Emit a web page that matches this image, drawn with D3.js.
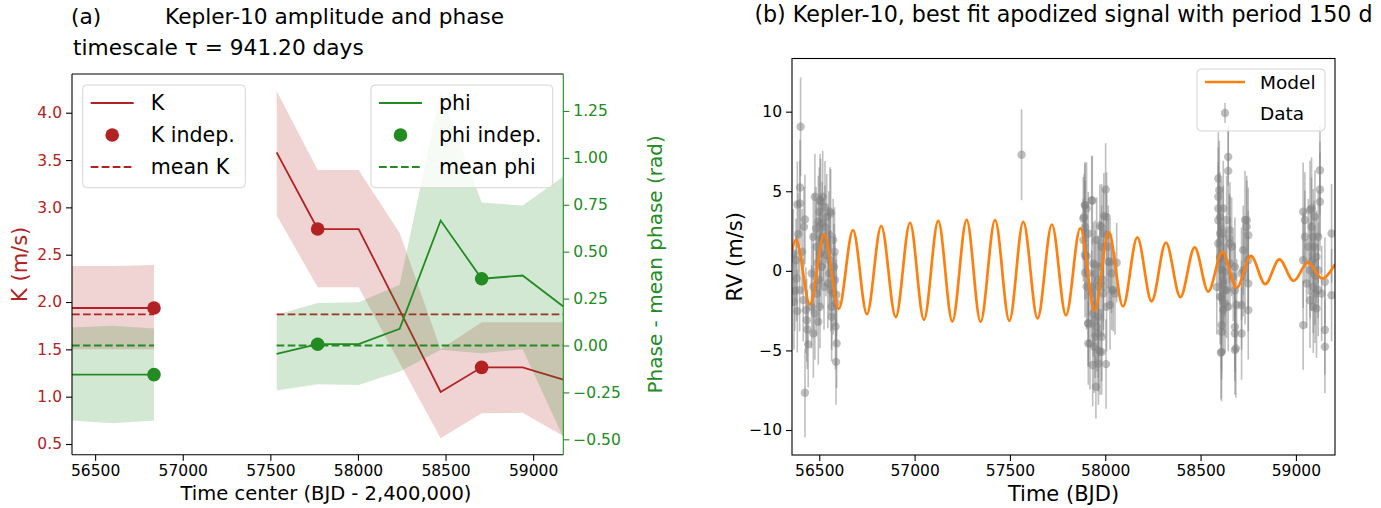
<!DOCTYPE html>
<html><head><meta charset="utf-8">
<script src="https://cdn.jsdelivr.net/npm/d3@7"></script>
<style>
body{margin:0;background:#fff}
svg{display:block}
text{font-family:"DejaVu Sans",sans-serif}
</style>
</head><body>
<svg id="c" width="1381" height="508"></svg>
<script>
// ---------------- data: panel (a) ----------------
const seg1Time = [56368, 56602, 56836];
const seg1K = [1.937, 1.937, 1.937];
const seg1KUp = [2.38, 2.38, 2.39];
const seg1KLo = [1.50, 1.50, 1.50];
const seg1Phi = [-0.155, -0.155, -0.155];
const seg1PhiUp = [0.096, 0.105, 0.091];
const seg1PhiLo = [-0.40, -0.414, -0.40];

const seg2Time = [57536, 57770, 58004, 58238, 58472, 58706, 58940, 59172];
const seg2K = [3.581, 2.771, 2.771, 1.915, 1.05, 1.31, 1.31, 1.18];
const seg2KUp = [4.229, 3.394, 3.394, 2.73, 1.50, 1.786, 1.786, 1.786];
const seg2KLo = [2.918, 2.155, 2.155, 1.356, 0.56, 0.824, 0.83, 0.585];
const seg2Phi = [-0.044, 0.007, 0.007, 0.089, 0.666, 0.356, 0.373, 0.208];
const seg2PhiUp = [0.164, 0.226, 0.231, 0.324, 1.354, 0.762, 0.746, 0.901];
const seg2PhiLo = [-0.24, -0.206, -0.211, -0.139, -0.023, -0.041, -0.02, -0.49];

const indepTime = [56836, 57770, 58706];
const indepK = [1.937, 2.771, 1.31];
const indepPhi = [-0.155, 0.007, 0.356];
const meanK = 1.87;
const meanPhi = 0.0;

const xTicksA = [56500, 57000, 57500, 58000, 58500, 59000];
const kTicks = [0.5, 1.0, 1.5, 2.0, 2.5, 3.0, 3.5, 4.0];
const phiTicks = [-0.50, -0.25, 0.00, 0.25, 0.50, 0.75, 1.00, 1.25];

// ---------------- data: panel (b) ----------------
const modelTime = [56357, 56378, 56451, 56526, 56602, 56677, 56750, 56825, 56901, 56976,
  57049, 57124, 57198, 57273, 57346, 57422, 57497, 57570, 57645, 57720,
  57794, 57869, 57944, 58018, 58093, 58168, 58243, 58318, 58394, 58469,
  58540, 58614, 58689, 58764, 58839, 58913, 58988, 59063, 59138, 59205];
const modelValue = [1.30, 1.97, -2.11, 2.31, -2.39, 2.56, -2.72, 2.83, -2.91, 3.02,
  -3.08, 3.14, -3.18, 3.20, -3.20, 3.18, -3.14, 3.08, -2.99, 2.91,
  -2.80, 2.68, -2.51, 2.43, -2.24, 2.10, -1.92, 1.78, -1.65, 1.47,
  -1.30, 1.19, -1.07, 0.94, -0.84, 0.72, -0.63, 0.53, -0.48, 0.42];

const rvTime = [
  56402,56399,56385,56425,56420,56378,56381,56372,56367,56385,56425,56416,56430,56434,56437,56442,
  56469,56460,56469,56460,56486,56469,56483,56495,56500,56507,56518,56521,56504,56513,56500,56486,
  56504,56477,56539,56530,56547,56556,56552,56556,56573,56577,56582,56573,56565,56565,56591,56588,
  56490,56510,56525,56535,56545,56495,56515,56530,56550,56560,56580,56585,56590,56410,56390,56364,
  56397,56399,56560,56477,56504,56588,
  57561,
  57894,57902,57932,58002,57993,57972,57990,57889,57894,57885,57902,57894,57937,57946,57964,57990,
  58025,58060,58042,58025,57911,57920,57934,58004,57972,57951,57946,57955,57937,57964,58007,57990,
  57981,57972,57955,57911,58007,57929,57941,57964,57981,57902,58016,58033,58051,57893,57929,57885,
  57981,58007,57893,58034,57911,57911,57946,57911,57929,57963,57990,58016,57946,57963,57963,57981,
  58593,58645,58645,58598,58593,58619,58602,58610,58654,58650,58733,58742,58750,58724,58750,58724,
  58733,58715,58750,58610,58610,58680,58680,58715,58610,58680,58593,58602,58610,58619,58610,58628,
  58619,58637,58654,58663,58671,58680,58689,58619,58637,58593,58602,58585,58628,58593,58602,58654,
  58742,58680,58715,58750,58619,58628,58602,58645,58607,58685,
  59038,59047,59038,59038,59074,59082,59100,59126,59126,59126,59091,59095,59082,59074,59091,59152,
  59135,59187,59187,59074,59091,59108,59152,59152,59065,59082,59108,59117,59056,59100,59117,59047,
  59100,59117];
const rvValue = [
  9.05,5.24,4.17,3.23,2.76,0.67,-0.48,-1.26,-1.95,-2.53,-7.66,-1.84,-2.47,-3.10,-3.68,-4.62,
  -3.93,-2.26,-1.00,-0.16,1.51,2.14,2.66,3.08,3.71,4.34,4.65,1.93,1.09,0.25,-0.58,-1.42,
  -2.26,-2.68,3.39,2.76,1.51,0.67,-0.16,3.71,1.93,0.25,-0.58,-1.42,-2.26,-2.89,-4.56,-5.72,
  0.50,2.00,-1.00,1.00,-0.80,-3.20,3.00,4.00,2.30,-1.20,1.20,-3.50,-1.50,1.20,2.30,1.09,
  -1.21,4.23,3.60,4.65,4.44,-2.00,
  7.29,
  4.13,3.92,4.40,5.11,3.44,2.83,2.35,3.39,2.76,1.93,0.92,-0.12,0.46,-0.16,-0.99,-0.58,
  0.57,0.51,-1.21,-2.15,-3.31,-4.56,-5.92,-5.86,-5.09,-7.28,-4.14,-3.52,-2.68,-2.89,-2.26,-1.42,
  1.51,0.25,1.93,2.35,3.39,-1.42,-4.77,-5.82,-4.14,-0.99,1.51,-0.16,-1.42,4.13,4.44,3.29,
  2.76,2.24,0.99,-1.21,-3.31,-4.56,0.36,-0.16,-1.00,-0.58,-1.00,0.57,-3.10,-3.93,-4.98,-5.09,
  5.80,7.16,6.28,5.07,3.92,3.92,3.39,2.77,2.56,2.04,3.19,2.77,2.24,1.30,0.67,0.04,
  -0.37,-2.15,-2.47,-3.41,-3.83,-3.52,-3.94,-3.94,-5.09,-4.98,1.72,0.88,0.04,-0.80,-1.64,-2.05,
  -2.47,-1.22,0.46,1.51,-0.37,-1.22,-2.15,2.35,3.19,4.65,0.77,-1.01,-0.06,3.18,2.35,1.72,
  3.18,0.25,-0.17,-0.79,-0.58,-1.21,-1.63,-2.26,-5.15,-4.87,
  3.71,2.14,0.67,-3.41,3.82,3.92,3.40,6.32,5.11,4.34,2.14,1.51,0.57,0.04,-1.01,-0.69,
  -1.43,2.35,-1.53,-1.85,-2.26,-2.36,-3.72,-4.77,1.51,2.77,0.88,0.04,-0.80,-1.43,2.14,3.19,
  -0.30,-1.20];
const rvError = [
  3.1,3.0,2.7,2.8,2.5,2.6,2.7,2.5,3.0,2.6,2.8,2.6,2.7,2.6,2.5,2.7,
  2.8,2.6,2.7,2.5,2.8,2.7,2.6,2.9,2.8,2.7,2.9,2.6,2.7,2.6,2.8,2.7,
  2.6,2.9,2.7,2.6,2.5,2.7,2.6,2.8,2.6,2.7,2.9,2.6,2.7,2.8,2.8,2.7,
  2.6,2.8,2.7,2.6,2.8,2.7,2.6,2.9,2.7,2.6,2.8,2.7,2.6,2.7,2.6,2.8,
  2.6,2.7,2.8,2.7,2.9,2.7,
  2.86,
  2.6,2.9,2.8,2.9,2.7,2.6,2.8,2.7,2.9,2.6,2.7,2.8,2.6,2.7,2.9,2.6,
  2.7,2.5,2.6,2.8,2.7,2.9,2.6,2.8,2.7,2.0,2.6,2.8,2.7,2.6,2.8,2.7,
  2.6,2.9,2.7,2.6,2.8,2.7,2.9,2.6,2.8,2.7,2.6,2.5,2.6,2.7,2.8,2.6,
  2.7,2.6,2.8,2.5,2.7,2.6,2.8,2.7,2.6,2.8,2.7,2.6,2.7,2.8,2.6,2.7,
  2.9,1.8,2.8,3.1,2.9,3.0,2.8,2.9,3.0,2.8,3.1,2.9,3.0,2.8,3.1,2.9,
  3.0,2.8,3.1,2.9,3.0,2.8,3.0,2.9,3.1,2.8,3.0,2.9,2.8,3.0,2.9,3.1,
  2.8,3.0,2.9,3.1,2.8,3.0,2.9,3.0,2.8,3.1,2.9,3.0,2.8,3.0,2.9,3.0,
  2.8,3.1,2.9,3.0,2.8,2.9,3.0,2.8,2.9,3.1,
  3.1,2.9,3.0,2.8,3.1,3.2,2.9,2.8,3.0,3.1,3.0,2.9,3.1,3.0,2.9,2.8,
  3.0,3.1,2.9,3.0,2.9,3.1,2.8,2.9,3.0,3.1,2.9,3.0,2.8,3.1,2.9,3.0,
  3.1,2.9];

const xTicksB = [56500, 57000, 57500, 58000, 58500, 59000];
const rvTicks = [-10, -5, 0, 5, 10];

// ---------------- styles ----------------
const cK = "#b22222", cPhi = "#228b22", cModel = "#ff7f0e", cData = "#808080";
const tickFont = 15.5;
const dash = "7.7,3.3";

const svg = d3.select("#c");
const defs = svg.append("defs");

function styleAxis(g, color, textColor) {
  g.select(".domain").remove();
  g.selectAll(".tick line").attr("stroke", color).attr("stroke-width", 1.1);
  g.selectAll(".tick text").attr("fill", textColor).attr("font-size", tickFont)
    .attr("font-family", "DejaVu Sans");
}

// ================= Panel (a) =================
const A = {l: 72, r: 563.3, t: 74, b: 454.7};
const xA = d3.scaleLinear().domain([56368, 59172]).range([A.l, A.r]);
const yK = d3.scaleLinear().domain([0.387, 4.409]).range([A.b, A.t]);
const yP = d3.scaleLinear().domain([-0.582, 1.447]).range([A.b, A.t]);

defs.append("clipPath").attr("id", "clipA").append("rect")
  .attr("x", A.l).attr("y", A.t).attr("width", A.r - A.l).attr("height", A.b - A.t);
const gA = svg.append("g").attr("clip-path", "url(#clipA)");

function segRows(time, mid, up, lo) {
  return time.map((t, i) => ({t, m: mid[i], u: up[i], l: lo[i]}));
}
const kSegs = [segRows(seg1Time, seg1K, seg1KUp, seg1KLo), segRows(seg2Time, seg2K, seg2KUp, seg2KLo)];
const pSegs = [segRows(seg1Time, seg1Phi, seg1PhiUp, seg1PhiLo), segRows(seg2Time, seg2Phi, seg2PhiUp, seg2PhiLo)];

const areaK = d3.area().x(d => xA(d.t)).y0(d => yK(d.l)).y1(d => yK(d.u));
const lineK = d3.line().x(d => xA(d.t)).y(d => yK(d.m));
const areaP = d3.area().x(d => xA(d.t)).y0(d => yP(d.l)).y1(d => yP(d.u));
const lineP = d3.line().x(d => xA(d.t)).y(d => yP(d.m));

// K layer
kSegs.forEach(s => gA.append("path").attr("d", areaK(s)).attr("fill", cK).attr("fill-opacity", 0.2));
kSegs.forEach(s => gA.append("path").attr("d", lineK(s)).attr("fill", "none").attr("stroke", cK).attr("stroke-width", 1.8));
indepTime.forEach((t, i) => gA.append("circle").attr("cx", xA(t)).attr("cy", yK(indepK[i])).attr("r", 6.8).attr("fill", cK));
[[seg1Time[0], seg1Time[seg1Time.length-1]], [seg2Time[0], seg2Time[seg2Time.length-1]]].forEach(r => {
  gA.append("line").attr("x1", xA(r[0])).attr("x2", xA(r[1])).attr("y1", yK(meanK)).attr("y2", yK(meanK))
    .attr("stroke", cK).attr("stroke-width", 1.8).attr("stroke-dasharray", dash);
});

// legends
function legendBox(x, y, w, h) {
  svg.append("rect").attr("x", x).attr("y", y).attr("width", w).attr("height", h).attr("rx", 4)
    .attr("fill", "#fff").attr("fill-opacity", 0.8).attr("stroke", "#d5d5d5").attr("stroke-width", 1);
}
function legendRows(x0, color, labels, font) {
  const ys = [103, 135, 167];
  const lx1 = x0 + 8, lx2 = x0 + 51, tx = x0 + 68;
  svg.append("line").attr("x1", lx1).attr("x2", lx2).attr("y1", ys[0]).attr("y2", ys[0]).attr("stroke", color).attr("stroke-width", 1.8);
  svg.append("circle").attr("cx", (lx1 + lx2) / 2).attr("cy", ys[1]).attr("r", 6.8).attr("fill", color);
  svg.append("line").attr("x1", lx1).attr("x2", lx2).attr("y1", ys[2]).attr("y2", ys[2]).attr("stroke", color).attr("stroke-width", 1.8).attr("stroke-dasharray", dash);
  labels.forEach((s, i) => svg.append("text").attr("x", tx).attr("y", ys[i]).attr("dy", "0.36em")
    .attr("font-size", font).attr("fill", "#000").text(s));
}
legendBox(82.7, 85, 162.6, 102.7);
legendRows(82.7, cK, ["K", "K indep.", "mean K"], 20.6);

// phi layer (twin axis drawn on top)
const gA2 = svg.append("g").attr("clip-path", "url(#clipA)");
pSegs.forEach(s => gA2.append("path").attr("d", areaP(s)).attr("fill", cPhi).attr("fill-opacity", 0.2));
pSegs.forEach(s => gA2.append("path").attr("d", lineP(s)).attr("fill", "none").attr("stroke", cPhi).attr("stroke-width", 1.8));
indepTime.forEach((t, i) => gA2.append("circle").attr("cx", xA(t)).attr("cy", yP(indepPhi[i])).attr("r", 6.8).attr("fill", cPhi));
[[seg1Time[0], seg1Time[seg1Time.length-1]], [seg2Time[0], seg2Time[seg2Time.length-1]]].forEach(r => {
  gA2.append("line").attr("x1", xA(r[0])).attr("x2", xA(r[1])).attr("y1", yP(meanPhi)).attr("y2", yP(meanPhi))
    .attr("stroke", cPhi).attr("stroke-width", 1.8).attr("stroke-dasharray", dash);
});
legendBox(371, 85, 181.7, 102.7);
legendRows(371, cPhi, ["phi", "phi indep.", "mean phi"], 20.6);

// axes (a)
const axA = svg.append("g").attr("transform", `translate(0,${A.b})`)
  .call(d3.axisBottom(xA).tickValues(xTicksA).tickFormat(d3.format("d")).tickSize(6).tickPadding(4));
styleAxis(axA, "#000", "#000");
const ayK = svg.append("g").attr("transform", `translate(${A.l},0)`)
  .call(d3.axisLeft(yK).tickValues(kTicks).tickFormat(d3.format(".1f")).tickSize(6).tickPadding(4));
styleAxis(ayK, "#000", cK);
const ayP = svg.append("g").attr("transform", `translate(${A.r},0)`)
  .call(d3.axisRight(yP).tickValues(phiTicks).tickFormat(d3.format(".2f")).tickSize(6).tickPadding(4));
styleAxis(ayP, cPhi, cPhi);
// spines
svg.append("line").attr("x1", A.l).attr("x2", A.r).attr("y1", A.t).attr("y2", A.t).attr("stroke", "#000").attr("stroke-width", 1.1);
svg.append("line").attr("x1", A.l).attr("x2", A.r).attr("y1", A.b).attr("y2", A.b).attr("stroke", "#000").attr("stroke-width", 1.1);
svg.append("line").attr("x1", A.l).attr("x2", A.l).attr("y1", A.t).attr("y2", A.b).attr("stroke", "#000").attr("stroke-width", 1.1);
svg.append("line").attr("x1", A.r).attr("x2", A.r).attr("y1", A.t).attr("y2", A.b).attr("stroke", cPhi).attr("stroke-width", 1.1);

// labels (a)
svg.append("text").attr("x", 326).attr("y", 500).attr("text-anchor", "middle").attr("font-size", 19.5).text("Time center (BJD - 2,400,000)");
svg.append("text").attr("transform", `translate(27,${(A.t + A.b) / 2}) rotate(-90)`).attr("text-anchor", "middle")
  .attr("font-size", 21).attr("fill", cK).text("K (m/s)");
svg.append("text").attr("transform", `translate(662,${(A.t + A.b) / 2}) rotate(-90)`).attr("text-anchor", "middle")
  .attr("font-size", 20).attr("fill", cPhi).text("Phase - mean phase (rad)");
svg.append("text").attr("x", 71).attr("y", 24).attr("font-size", 21.7).text("(a)");
svg.append("text").attr("x", 165).attr("y", 24).attr("font-size", 21.7).text("Kepler-10 amplitude and phase");
svg.append("text").attr("x", 73).attr("y", 55).attr("font-size", 21.7).text("timescale \u03c4 = 941.20 days");

// ================= Panel (b) =================
const B = {l: 792, r: 1335, t: 58.5, b: 455};
const xB = d3.scaleLinear().domain([56357, 59205]).range([B.l, B.r]);
const yB = d3.scaleLinear().domain([-11.57, 13.34]).range([B.b, B.t]);
defs.append("clipPath").attr("id", "clipB").append("rect")
  .attr("x", B.l).attr("y", B.t).attr("width", B.r - B.l).attr("height", B.b - B.t);
const gB = svg.append("g").attr("clip-path", "url(#clipB)");

rvTime.forEach((t, i) => {
  gB.append("line").attr("x1", xB(t)).attr("x2", xB(t))
    .attr("y1", yB(rvValue[i] - rvError[i])).attr("y2", yB(rvValue[i] + rvError[i]))
    .attr("stroke", cData).attr("stroke-opacity", 0.5).attr("stroke-width", 1.6);
  gB.append("circle").attr("cx", xB(t)).attr("cy", yB(rvValue[i])).attr("r", 4.2)
    .attr("fill", cData).attr("fill-opacity", 0.5);
});
const modelLine = d3.line().x((d, i) => xB(modelTime[i])).y(d => yB(d)).curve(d3.curveMonotoneX);
gB.append("path").attr("d", modelLine(modelValue)).attr("fill", "none").attr("stroke", cModel).attr("stroke-width", 2.7);

const axB = svg.append("g").attr("transform", `translate(0,${B.b})`)
  .call(d3.axisBottom(xB).tickValues(xTicksB).tickFormat(d3.format("d")).tickSize(6).tickPadding(4));
styleAxis(axB, "#000", "#000");
const ayB = svg.append("g").attr("transform", `translate(${B.l},0)`)
  .call(d3.axisLeft(yB).tickValues(rvTicks).tickFormat(d3.format("d")).tickSize(6).tickPadding(4));
styleAxis(ayB, "#000", "#000");
svg.append("rect").attr("x", B.l).attr("y", B.t).attr("width", B.r - B.l).attr("height", B.b - B.t)
  .attr("fill", "none").attr("stroke", "#000").attr("stroke-width", 1.1);

// legend (b)
legendBox(1197, 69, 128, 62);
svg.append("line").attr("x1", 1205).attr("x2", 1245).attr("y1", 82).attr("y2", 82).attr("stroke", cModel).attr("stroke-width", 2.7);
svg.append("line").attr("x1", 1225).attr("x2", 1225).attr("y1", 103).attr("y2", 123).attr("stroke", cData).attr("stroke-opacity", 0.5).attr("stroke-width", 1.6);
svg.append("circle").attr("cx", 1225).attr("cy", 113).attr("r", 4.2).attr("fill", cData).attr("fill-opacity", 0.5);
svg.append("text").attr("x", 1260).attr("y", 82).attr("dy", "0.36em").attr("font-size", 18.5).text("Model");
svg.append("text").attr("x", 1260).attr("y", 113).attr("dy", "0.36em").attr("font-size", 18.5).text("Data");

// labels (b)
svg.append("text").attr("x", (B.l + B.r) / 2).attr("y", 501).attr("text-anchor", "middle").attr("font-size", 21).text("Time (BJD)");
svg.append("text").attr("transform", `translate(742,${(B.t + B.b) / 2}) rotate(-90)`).attr("text-anchor", "middle")
  .attr("font-size", 21).text("RV (m/s)");
svg.append("text").attr("x", (B.l + B.r) / 2).attr("y", 22).attr("text-anchor", "middle").attr("font-size", 22.2)
  .text("(b) Kepler-10, best fit apodized signal with period 150 d");
</script>
</body></html>
